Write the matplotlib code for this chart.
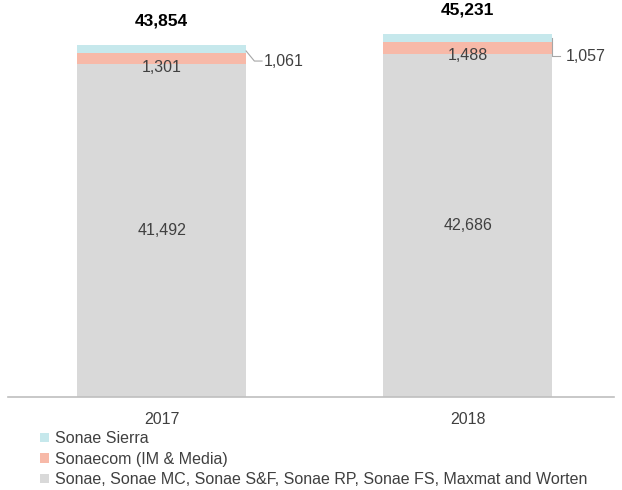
import matplotlib
matplotlib.use("Agg")
import matplotlib.pyplot as plt

years = ["2017", "2018"]
core = [41492, 42686]
sonaecom = [1301, 1488]
sierra = [1061, 1057]
totals = [43854, 45231]
series_names = ["Sonae Sierra", "Sonaecom (IM & Media)",
                "Sonae, Sonae MC, Sonae S&F, Sonae RP, Sonae FS, Maxmat and Worten"]

plt.rcParams["font.family"] = ["Liberation Sans", "DejaVu Sans"]
txt = "#404040"
c_core, c_com, c_sierra = "#D9D9D9", "#F7B9A8", "#C6E8EC"
fs = 11.5

fig = plt.figure(figsize=(6.22, 4.9), dpi=100)
ax = fig.add_axes([8 / 622, 93 / 490, 606 / 622, 385.4 / 490])

x = [0, 1]
w = 0.552
b1 = ax.bar(x, core, w, color=c_core, label=series_names[2])
b2 = ax.bar(x, sonaecom, w, bottom=core, color=c_com, label=series_names[1])
bottom3 = [a + b for a, b in zip(core, sonaecom)]
b3 = ax.bar(x, sierra, w, bottom=bottom3, color=c_sierra, label=series_names[0])

ax.set_xlim(-0.502, 1.478)
ax.set_ylim(0, 48000)
for s in ["top", "right", "left"]:
    ax.spines[s].set_visible(False)
ax.spines["bottom"].set_color("#BFBFBF")
ax.spines["bottom"].set_linewidth(1.2)
ax.set_yticks([])
ax.set_xticks(x)
ax.set_xticklabels(years, fontsize=fs, color=txt)
ax.tick_params(axis="x", length=0, pad=11)

lab_com = [core[0] - 500, core[1] - 100]
for i in range(2):
    ax.text(x[i], core[i] / 2, f"{core[i]:,}", ha="center", va="center",
            fontsize=fs, color=txt)
    ax.text(x[i], lab_com[i], f"{sonaecom[i]:,}", ha="center", va="center",
            fontsize=fs, color=txt)
    ax.text(x[i], totals[i] + 3000, f"{totals[i]:,}", ha="center", va="center",
            fontsize=12.5, color="black", fontweight="bold")

# leader lines for Sonae Sierra labels
edge0 = x[0] + w / 2
y0 = core[0] + 350
ax.plot([edge0, edge0 + 0.027, edge0 + 0.052],
        [bottom3[0] + 300, y0, y0], color="#A6A6A6", lw=0.8)
ax.text(edge0 + 0.058, y0, f"{sierra[0]:,}", ha="left",
        va="center", fontsize=fs, color=txt)
edge1 = x[1] + w / 2
y1 = core[1] - 220
ax.plot([edge1, edge1, edge1 + 0.026],
        [bottom3[1] + 600, y1, y1], color="#A6A6A6", lw=0.8)
ax.text(edge1 + 0.045, y1, f"{sierra[1]:,}", ha="left",
        va="center", fontsize=fs, color=txt)

handles = [b3, b2, b1]
leg = fig.legend(handles, series_names, loc="upper left",
                 bbox_to_anchor=(40 / 622, 1 - 431 / 490), frameon=False,
                 fontsize=fs, handlelength=0.55, handleheight=0.55,
                 handletextpad=0.4, labelspacing=0.35, borderaxespad=0,
                 borderpad=0)
for t in leg.get_texts():
    t.set_color(txt)

fig.savefig("out.png", dpi=100)
